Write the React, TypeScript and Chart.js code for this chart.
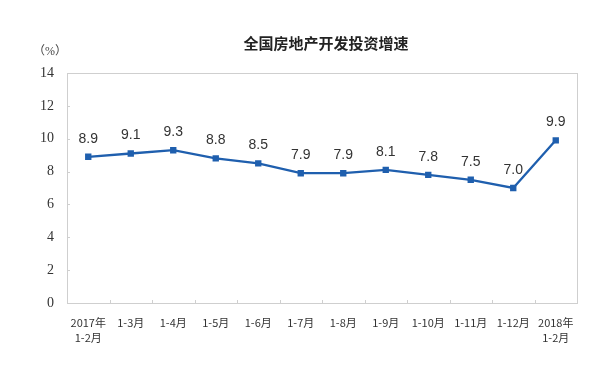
import React, { useEffect, useRef } from "react";
import { Chart, registerables } from "chart.js";

Chart.register(...registerables);

const TITLE = "全国房地产开发投资增速";
const UNIT_LABEL = "（%）";
const categories: (string | string[])[] = [
  ["2017年", "1-2月"],
  "1-3月",
  "1-4月",
  "1-5月",
  "1-6月",
  "1-7月",
  "1-8月",
  "1-9月",
  "1-10月",
  "1-11月",
  "1-12月",
  ["2018年", "1-2月"],
];
const growth = [8.9, 9.1, 9.3, 8.8, 8.5, 7.9, 7.9, 8.1, 7.8, 7.5, 7.0, 9.9];
const yMin = 0;
const yMax = 14;
const yStep = 2;

const LINE_COLOR = "#1f5fae";
const FRAME_COLOR = "#cfcfcf";

const decorPlugin = {
  id: "decor",
  beforeDatasetsDraw(chart: any) {
    const { ctx, chartArea, scales } = chart;
    ctx.save();
    ctx.strokeStyle = FRAME_COLOR;
    ctx.lineWidth = 1;
    ctx.strokeRect(
      Math.round(chartArea.left) + 0.5,
      Math.round(chartArea.top) + 0.5,
      Math.round(chartArea.right - chartArea.left),
      Math.round(chartArea.bottom - chartArea.top)
    );
    const xs = scales.x;
    ctx.beginPath();
    for (let i = 1; i < categories.length; i++) {
      const px = Math.round((xs.getPixelForValue(i - 1) + xs.getPixelForValue(i)) / 2) + 0.5;
      ctx.moveTo(px, chartArea.bottom);
      ctx.lineTo(px, chartArea.bottom - 3);
    }
    const ys = scales.y;
    for (let v = yMin + yStep; v < yMax; v += yStep) {
      const py = Math.round(ys.getPixelForValue(v)) + 0.5;
      ctx.moveTo(chartArea.left, py);
      ctx.lineTo(chartArea.left + 3, py);
    }
    ctx.stroke();
    ctx.restore();
  },
  afterDraw(chart: any) {
    const { ctx, chartArea } = chart;
    ctx.save();
    ctx.fillStyle = "#222";
    ctx.font = "bold 15px 'Noto Sans CJK SC'";
    ctx.textAlign = "center";
    ctx.textBaseline = "middle";
    ctx.fillText(TITLE, 326, 43);
    ctx.font = "12px 'Liberation Serif', 'Noto Sans CJK SC'";
    ctx.fillStyle = "#444";
    ctx.fillText(UNIT_LABEL, chartArea.left - 17, 52);
    const meta = chart.getDatasetMeta(0);
    ctx.font = "14px 'Liberation Sans', Arial, sans-serif";
    ctx.fillStyle = "#333";
    meta.data.forEach((pt: any, i: number) => {
      ctx.fillText(growth[i].toFixed(1), pt.x, pt.y - 18);
    });
    ctx.restore();
  },
};

export default function App() {
  const canvasRef = useRef<HTMLCanvasElement | null>(null);

  useEffect(() => {
    document.body.style.margin = "0";
    const canvas = canvasRef.current;
    if (!canvas) return;
    const chart = new Chart(canvas, {
      type: "line",
      data: {
        labels: categories,
        datasets: [
          {
            data: growth,
            borderColor: LINE_COLOR,
            backgroundColor: LINE_COLOR,
            borderWidth: 2.3,
            pointStyle: "rect",
            pointRadius: 4.5,
            pointBackgroundColor: LINE_COLOR,
            pointBorderColor: LINE_COLOR,
            pointBorderWidth: 0,
            tension: 0,
          },
        ],
      },
      options: {
        responsive: false,
        animation: false,
        layout: { padding: { top: 73, right: 23, left: 0, bottom: 0 } },
        plugins: {
          legend: { display: false },
          tooltip: { enabled: false },
          title: { display: false },
        },
        scales: {
          x: {
            offset: true,
            grid: { display: false, drawTicks: false },
            border: { display: true, color: FRAME_COLOR },
            ticks: {
              padding: 13,
              color: "#333",
              font: { size: 11, family: "'Noto Sans CJK SC'", lineHeight: 1.3 },
              maxRotation: 0,
              autoSkip: false,
            },
            afterFit(scale: any) {
              scale.height = 62;
            },
          },
          y: {
            min: yMin,
            max: yMax,
            grid: { display: false, drawTicks: false },
            border: { display: true, color: FRAME_COLOR },
            ticks: {
              stepSize: yStep,
              padding: 13,
              color: "#333",
              font: { size: 14, family: "'Liberation Serif', serif" },
            },
            afterFit(scale: any) {
              scale.width = 67;
            },
          },
        },
      },
      plugins: [decorPlugin],
    });
    return () => chart.destroy();
  }, []);

  return (
    <div style={{ position: "fixed", left: 0, top: 0, width: 600, height: 365, background: "#fff" }}>
      <canvas ref={canvasRef} width={600} height={365} />
    </div>
  );
}
